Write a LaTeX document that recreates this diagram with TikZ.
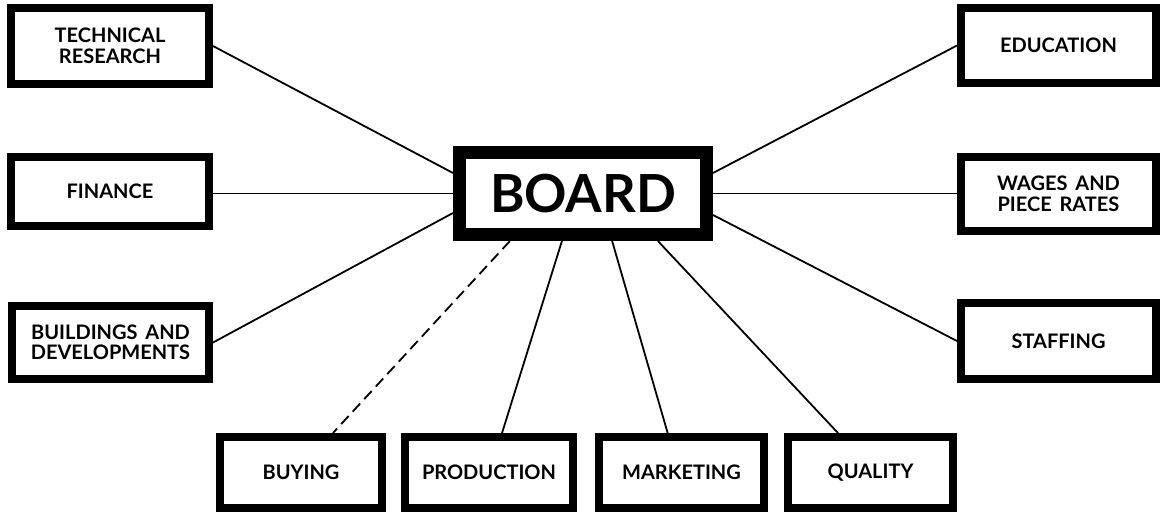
\documentclass[tikz,border=0pt]{standalone}
\usepackage{fontspec}
\setmainfont{Lato}
\usetikzlibrary{calc}
\newfontfamily\boxfont{Lato}[UprightFont=* Bold, WordSpace=1.6]
\begin{document}
\begin{tikzpicture}[x=1pt,y=-1pt,
  subbox/.style={draw, line width=8pt, inner sep=0pt, align=center,
    font=\boxfont\fontsize{20}{20.5}\selectfont, minimum height=70pt},
  boardbox/.style={draw, line width=13pt, inner sep=0pt,
    font=\boxfont\fontsize{52.5}{56}\selectfont, minimum width=247pt, minimum height=82pt},
  link/.style={line width=1.8pt},
  dashlink/.style={line width=1.8pt, dash pattern=on 11pt off 6pt}]
\useasboundingbox (0,0) rectangle (1165,515);
\fill[white] (0,0) rectangle (1165,515);
% centre
\node[boardbox] (board) at (583,193.5) {BOARD};
% left
\node[subbox, minimum width=198pt, minimum height=76pt] (tr) at (110,46) {TECHNICAL\\RESEARCH};
\node[subbox, minimum width=198pt, minimum height=69pt] (fin) at (110,191.5) {FINANCE};
\node[subbox, minimum width=197pt, minimum height=73pt] (bld) at (110.5,342.5) {BUILDINGS AND\\DEVELOPMENTS};
% right
\node[subbox, minimum width=195pt, minimum height=75pt] (edu) at (1058.5,45.5) {EDUCATION};
\node[subbox, minimum width=195pt, minimum height=74pt] (wag) at (1058.5,194) {WAGES AND\\PIECE RATES};
\node[subbox, minimum width=195pt, minimum height=76pt] (stf) at (1058.5,341) {STAFFING};
% bottom
\node[subbox, minimum width=162pt, minimum height=71pt] (buy) at (301,472.5) {BUYING};
\node[subbox, minimum width=168pt, minimum height=71pt] (prod) at (489,472.5) {PRODUCTION};
\node[subbox, minimum width=165pt, minimum height=71pt] (mkt) at (681.5,472.5) {MARKETING};
\node[subbox, minimum width=165pt, minimum height=71pt] (qual) at (870.5,472.5) {QUALITY};
% connectors left
\draw[link] (tr.east) -- ($(board.north west)!0.284!(board.south west)$);
\draw[link] (board.west) -- (board.west -| fin.east);
\draw[link] (bld.east) -- ($(board.north west)!0.705!(board.south west)$);
% connectors right
\draw[link] (edu.west) -- ($(board.north east)!0.284!(board.south east)$);
\draw[link] (board.east) -- (board.east -| wag.west);
\draw[link] (stf.west) -- ($(board.north east)!0.726!(board.south east)$);
% connectors bottom
\draw[dashlink] ($(board.south west)!0.219!(board.south east)$) -- ($(buy.north west)!0.688!(buy.north east)$);
\draw[link] ($(board.south west)!0.419!(board.south east)$) -- ($(prod.north west)!0.574!(prod.north east)$);
\draw[link] ($(board.south west)!0.612!(board.south east)$) -- ($(mkt.north west)!0.42!(mkt.north east)$);
\draw[link] ($(board.south west)!0.788!(board.south east)$) -- ($(qual.north west)!0.312!(qual.north east)$);
\end{tikzpicture}
\end{document}
